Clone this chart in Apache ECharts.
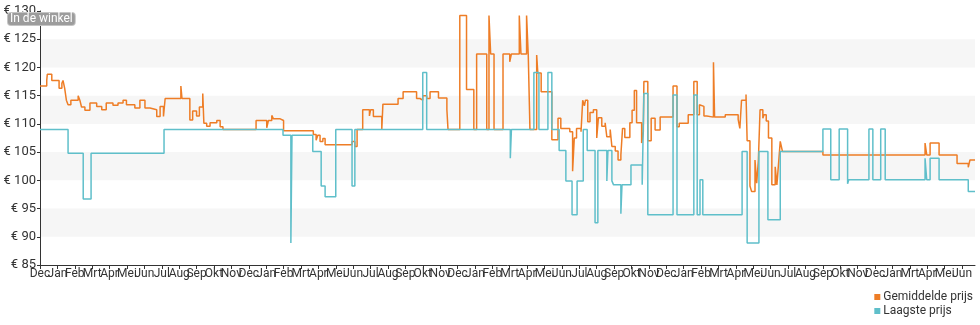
<!DOCTYPE html>
<html>
<head>
<meta charset="utf-8">
<script src="https://cdn.jsdelivr.net/npm/echarts@6/dist/echarts.min.js"></script>
<style>
html,body{margin:0;padding:0;background:#fff;}
#chart{width:980px;height:325px;}
</style>
</head>
<body>
<div id="chart"></div>
<script>
// Tick labels (one tick every 31 days from the start date)
const tickLabels = ['Dec',
  'Jan','Feb','Mrt','Apr','Mei','Jun','Jul','Aug','Sep','Okt','Nov','Dec',
  'Jan','Feb','Mrt','Apr','Mei','Jun','Jul','Aug','Sep','Okt','Nov','Dec',
  'Jan','Feb','Mrt','Apr','Mei','Jun','Jul','Aug','Sep','Okt','Nov','Dec',
  'Jan','Feb','Mrt','Apr','Mei','Jun','Jul','Aug','Sep','Okt','Nov','Dec',
  'Jan','Mrt','Apr','Mei','Jun'];
const tickDays = 31;
const lastDay = 1666;

// Gemiddelde prijs: change points (day offset, price)
const avgDays = [0,12,13,21,34,39,41,44,47,50,55,68,71,74,80,89,101,110,118,130,139,148,154,169,178,187,196,208,214,220,223,251,253,267,272,279,284,290,292,297,303,315,321,326,385,404,407,413,416,428,434,487,492,495,499,504,508,556,561,565,575,587,589,594,609,611,638,647,671,677,682,689,695,710,725,727,748,760,773,778,796,800,803,809,825,837,840,854,857,867,870,873,885,887,893,912,923,928,944,949,952,956,964,967,970,972,976,980,986,992,995,1001,1007,1010,1016,1019,1025,1030,1035,1038,1042,1051,1055,1059,1063,1072,1075,1076,1083,1089,1096,1105,1128,1135,1139,1155,1165,1171,1175,1177,1183,1188,1200,1202,1221,1244,1247,1250,1258,1260,1265,1268,1274,1277,1280,1283,1288,1290,1294,1298,1304,1310,1313,1316,1319,1322,1323,1395,1577,1580,1586,1602,1634,1654,1657,1666];
const avgPrice = [116.7,117.7,118.8,117.7,116.3,117.2,117.7,116.3,114.2,113.4,114.2,115.0,114.2,113.0,112.4,113.7,113.1,112.5,113.7,113.3,113.7,114.2,113.4,112.8,114.2,112.8,112.5,111.3,113.1,111.3,114.5,116.7,114.5,110.7,112.3,111.4,113.0,115.4,110.1,109.6,110.2,110.6,109.5,109.0,110.6,109.3,110.6,111.5,110.9,110.6,108.8,108.1,107.1,108.0,106.9,107.4,106.3,106.9,106.0,109.0,112.5,111.4,112.5,111.3,109.0,113.5,114.5,115.7,114.5,114.2,115.0,114.5,115.7,114.6,112.5,109.0,129.2,116.1,109.0,122.4,109.0,129.2,122.4,109.0,122.4,121.0,122.4,129.2,122.4,129.2,122.2,109.0,122.2,119.0,115.7,107.2,111.0,109.2,108.6,101.6,107.5,109.2,108.6,114.2,113.2,114.2,110.4,112.0,112.5,107.5,111.1,109.6,110.2,107.7,109.0,106.0,105.2,103.6,104.5,109.2,107.6,110.2,112.4,115.9,110.2,106.6,108.6,117.5,107.0,111.0,108.9,111.2,116.7,109.5,110.1,111.6,117.5,111.6,113.4,113.1,111.4,111.2,120.9,111.2,111.6,110.8,109.2,114.2,115.2,107.0,99.0,98.0,103.6,99.5,103.5,112.5,111.0,111.6,110.5,107.5,99.2,102.4,99.2,103.0,106.9,107.2,105.1,104.5,106.6,104.5,106.6,104.5,103.0,102.3,103.6,103.6];

// Laagste prijs: change points (day offset, price)
const lowDays = [0,50,77,91,221,433,447,449,486,501,508,527,556,561,682,689,838,840,880,889,905,912,925,937,948,957,968,975,989,994,1010,1012,1019,1022,1035,1037,1053,1073,1076,1083,1128,1135,1165,1171,1176,1181,1251,1260,1281,1297,1319,1395,1409,1424,1439,1441,1477,1484,1498,1506,1577,1580,1586,1602,1654,1666];
const lowPrice = [109.0,104.8,96.7,104.8,109.0,108.0,88.9,108.0,105.1,99.0,97.1,109.0,99.0,109.0,119.1,109.0,103.9,109.0,119.1,109.0,119.1,109.0,105.3,99.9,93.9,99.9,109.0,105.3,92.5,105.3,99.9,105.3,99.9,99.2,94.1,99.2,102.7,99.2,115.4,93.9,115.1,93.9,115.1,93.9,100.1,93.9,105.1,88.9,105.1,93.0,105.1,109.1,100.1,109.1,99.4,100.1,109.1,100.1,109.1,100.1,103.9,100.1,103.9,100.1,98.0,98.0];

const yTicks = {min: 85, max: 130, step: 5};

const zip = (a, b) => a.map((d, i) => [d, b[i]]);

function tickIndex(v) {
  const i = v / tickDays;
  return Math.abs(i - Math.round(i)) > 1e-6 ? -1 : Math.round(i);
}

const labelBase = {color: '#333', fontSize: 12, margin: 3, hideOverlap: false};

const chart = echarts.init(document.getElementById('chart'), null, {renderer: 'canvas'});
chart.setOption({
  animation: false,
  backgroundColor: '#fff',
  textStyle: {fontFamily: 'Roboto'},
  grid: {left: 40, right: 5, top: 11, bottom: 60, containLabel: false},
  legend: {
    orient: 'vertical', right: 7, top: 290, height: 34,
    itemWidth: 6, itemHeight: 6, itemGap: 0, padding: 0,
    icon: 'rect',
    textStyle: {fontSize: 12, lineHeight: 14, color: '#333', fontFamily: 'Roboto', padding: [0, 0, 0, -2]},
    data: ['Gemiddelde prijs', 'Laagste prijs']
  },
  xAxis: [{
    type: 'value', min: 0, max: lastDay, interval: tickDays,
    splitLine: {show: false},
    axisLine: {lineStyle: {color: '#333', width: 1}},
    axisTick: {length: 4, lineStyle: {color: '#333'}},
    axisLabel: Object.assign({}, labelBase, {
      showMinLabel: true, showMaxLabel: false,
      formatter: function (v) {
        const i = tickIndex(v);
        return i > 0 ? (tickLabels[i] || '') : '';
      }
    })
  }, {
    // second copy of the same axis that carries only the first tick label
    type: 'value', min: 0, max: lastDay, interval: tickDays, position: 'bottom',
    splitLine: {show: false}, axisLine: {show: false}, axisTick: {show: false},
    axisLabel: Object.assign({}, labelBase, {
      showMinLabel: true, showMaxLabel: false,
      formatter: function (v) {
        return tickIndex(v) === 0 ? tickLabels[0] : '';
      }
    })
  }],
  yAxis: {
    type: 'value', min: yTicks.min, max: yTicks.max, interval: yTicks.step,
    splitLine: {show: false},
    splitArea: {show: true, areaStyle: {color: ['rgba(255,255,255,0)', '#f6f6f6']}},
    axisLine: {show: true, lineStyle: {color: '#333', width: 1}},
    axisTick: {show: true, length: 3, lineStyle: {color: '#333'}},
    axisLabel: {color: '#333', fontSize: 13, margin: 4, formatter: '€ {value}'}
  },
  graphic: [{
    type: 'text', left: 7, top: 12, z: 100,
    style: {
      text: 'In de winkel', fill: '#fff', font: '12px Roboto',
      backgroundColor: '#9c9c9c', borderColor: '#c4c4c4', borderWidth: 1,
      borderRadius: 3, padding: [0, 2, 0, 2]
    }
  }],
  series: [
    {
      name: 'Gemiddelde prijs', type: 'line', step: 'end', showSymbol: false, symbol: 'none',
      color: '#ee7d26', lineStyle: {width: 1.5, color: '#ee7d26'},
      data: zip(avgDays, avgPrice)
    },
    {
      name: 'Laagste prijs', type: 'line', step: 'end', showSymbol: false, symbol: 'none',
      color: '#5fbfca', lineStyle: {width: 1.5, color: '#5fbfca'},
      data: zip(lowDays, lowPrice)
    }
  ]
});
</script>
</body>
</html>
